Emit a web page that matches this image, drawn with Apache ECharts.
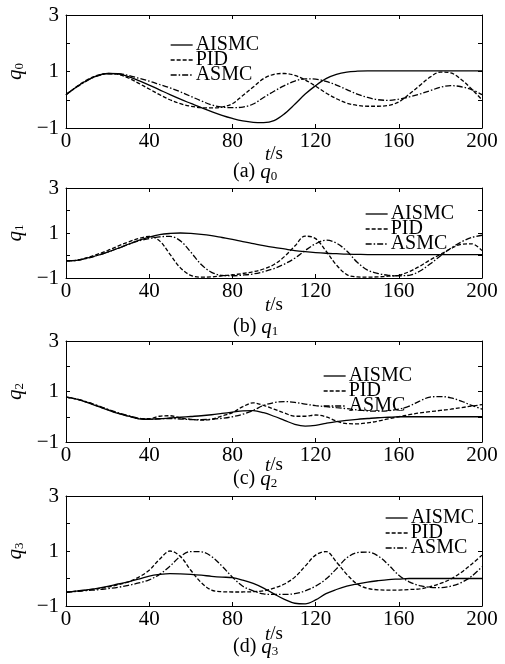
<!DOCTYPE html>
<html><head><meta charset="utf-8">
<script src="https://cdn.jsdelivr.net/npm/echarts@6/dist/echarts.min.js"></script>
<style>html,body{margin:0;padding:0;background:#fff}#c{width:505px;height:664px}</style>
</head><body><div id="c"></div>
<script>
var t = [0,5,10,15,20,25,30,35,40,45,50,55,60,65,70,75,80,85,90,95,100,105,110,115,120,125,130,135,140,145,150,155,160,165,170,175,180,185,190,195,200];
var xTicks = [0,40,80,120,160,200];
var yTicks = [-1,1,3];
var seriesNames = ['AISMC','PID','ASMC'];
var panelLetters = ['a','b','c','d'];

// panel (a) q0
var q0_AISMC = [0.18,0.45,0.68,0.85,0.93,0.92,0.82,0.68,0.52,0.35,0.18,0.02,-0.13,-0.28,-0.42,-0.55,-0.66,-0.75,-0.8,-0.81,-0.74,-0.5,-0.16,0.2,0.5,0.75,0.9,0.98,1.01,1.02,1.02,1.02,1.02,1.02,1.02,1.02,1.02,1.02,1.02,1.02,1.02];
var q0_PID   = [0.18,0.46,0.7,0.86,0.93,0.9,0.77,0.58,0.38,0.18,0.0,-0.14,-0.23,-0.28,-0.29,-0.26,-0.14,0.15,0.45,0.75,0.9,0.93,0.86,0.7,0.48,0.24,0.04,-0.12,-0.2,-0.23,-0.23,-0.2,-0.08,0.2,0.5,0.8,0.98,0.95,0.72,0.38,0.0];
var q0_ASMC  = [0.18,0.44,0.67,0.84,0.92,0.92,0.86,0.76,0.66,0.54,0.42,0.28,0.12,-0.04,-0.18,-0.26,-0.28,-0.26,-0.15,0.08,0.3,0.5,0.66,0.74,0.73,0.65,0.52,0.36,0.2,0.08,0.0,-0.02,0.02,0.1,0.2,0.32,0.44,0.5,0.46,0.36,0.18];

// panel (b) q1
var q1_AISMC = [-0.24,-0.22,-0.12,0.0,0.15,0.32,0.5,0.67,0.82,0.93,0.98,1.0,0.98,0.94,0.88,0.8,0.72,0.62,0.53,0.44,0.36,0.29,0.22,0.17,0.13,0.1,0.08,0.06,0.05,0.04,0.04,0.04,0.04,0.04,0.04,0.04,0.04,0.04,0.04,0.04,0.04];
var q1_PID   = [-0.24,-0.21,-0.1,0.05,0.22,0.42,0.6,0.76,0.85,0.65,0.05,-0.55,-0.88,-0.96,-0.95,-0.9,-0.86,-0.8,-0.72,-0.6,-0.4,-0.05,0.42,0.86,0.75,0.2,-0.42,-0.85,-0.95,-0.96,-0.95,-0.92,-0.88,-0.72,-0.48,-0.2,0.05,0.3,0.5,0.52,0.22];
var q1_ASMC  = [-0.24,-0.22,-0.13,0.0,0.15,0.32,0.5,0.65,0.75,0.83,0.85,0.65,0.15,-0.4,-0.75,-0.88,-0.9,-0.87,-0.82,-0.72,-0.58,-0.38,-0.12,0.22,0.52,0.68,0.55,0.2,-0.3,-0.65,-0.8,-0.88,-0.9,-0.88,-0.7,-0.38,-0.02,0.32,0.6,0.8,0.9];

// panel (c) q2
var q2_AISMC = [0.78,0.7,0.57,0.42,0.27,0.13,0.02,-0.08,-0.1,-0.08,-0.05,-0.02,0.01,0.04,0.08,0.13,0.18,0.23,0.24,0.16,0.02,-0.14,-0.3,-0.37,-0.34,-0.26,-0.19,-0.14,-0.1,-0.07,-0.04,-0.02,0.0,0.0,0.0,0.0,0.0,0.0,0.0,0.0,0.0];
var q2_PID   = [0.78,0.7,0.58,0.43,0.28,0.14,0.03,-0.07,-0.08,0.02,0.04,-0.05,-0.1,-0.13,-0.1,0.03,0.16,0.4,0.55,0.45,0.3,0.15,0.02,0.02,0.07,0.0,-0.17,-0.27,-0.28,-0.24,-0.17,-0.08,0.0,0.08,0.15,0.2,0.25,0.3,0.36,0.42,0.48];
var q2_ASMC  = [0.78,0.71,0.59,0.45,0.3,0.16,0.04,-0.06,-0.1,-0.08,-0.07,-0.09,-0.11,-0.11,-0.1,-0.06,0.0,0.1,0.25,0.45,0.56,0.6,0.57,0.5,0.44,0.4,0.36,0.32,0.27,0.23,0.22,0.24,0.3,0.42,0.62,0.78,0.8,0.75,0.62,0.45,0.3];

// panel (d) q3
var q3_AISMC = [-0.5,-0.46,-0.41,-0.36,-0.29,-0.2,-0.12,-0.02,0.09,0.15,0.18,0.17,0.15,0.12,0.08,0.05,0.03,-0.06,-0.18,-0.35,-0.56,-0.76,-0.9,-0.92,-0.78,-0.55,-0.4,-0.28,-0.2,-0.13,-0.08,-0.04,-0.02,0.0,0.0,0.0,0.0,0.0,0.0,0.0,0.0];
var q3_PID   = [-0.5,-0.46,-0.42,-0.37,-0.31,-0.23,-0.12,0.05,0.3,0.7,1.0,0.8,0.3,-0.15,-0.42,-0.48,-0.49,-0.49,-0.48,-0.45,-0.35,-0.2,0.05,0.45,0.85,0.98,0.6,0.15,-0.2,-0.36,-0.41,-0.42,-0.42,-0.4,-0.38,-0.3,-0.18,-0.02,0.22,0.52,0.85];
var q3_ASMC  = [-0.5,-0.47,-0.44,-0.41,-0.37,-0.32,-0.25,-0.16,-0.05,0.15,0.45,0.8,0.98,0.97,0.8,0.45,0.05,-0.28,-0.45,-0.56,-0.58,-0.58,-0.55,-0.45,-0.28,-0.02,0.35,0.75,0.94,0.96,0.82,0.5,0.12,-0.12,-0.26,-0.32,-0.33,-0.28,-0.15,0.08,0.43];

var panels = [
  [q0_AISMC, q0_PID, q0_ASMC],
  [q1_AISMC, q1_PID, q1_ASMC],
  [q2_AISMC, q2_PID, q2_ASMC],
  [q3_AISMC, q3_PID, q3_ASMC]
];

// layout
var FONT = "'Liberation Serif','Times New Roman',serif";
var grids = [
  {top:15, height:113},
  {top:188, height:90},
  {top:341, height:101},
  {top:496, height:110}
];
var nameGaps = [17, 18, 14, 19];
var captionTop = [161, 316, 468, 636];
var legendPos = [
  {left:170, top:35},
  {left:365, top:204},
  {left:323, top:366},
  {left:385, top:508}
];
var dashTypes = ['solid', [4,2], [6,2,1.5,2]];

var option = {
  animation:false,
  backgroundColor:'#fff',
  textStyle:{fontFamily:FONT, color:'#000'},
  grid:[], xAxis:[], yAxis:[], series:[], legend:[], title:[]
};

var subRich = {
  n:{fontFamily:FONT, fontSize:20, fontWeight:'normal', color:'#000', lineHeight:22, verticalAlign:'middle'},
  i:{fontFamily:FONT, fontSize:21, fontStyle:'italic', fontWeight:'normal', color:'#000', lineHeight:22, verticalAlign:'middle'},
  s:{fontFamily:FONT, fontSize:13, fontWeight:'normal', color:'#000', lineHeight:12, verticalAlign:'bottom'}
};

grids.forEach(function(g, k){
  option.grid.push({left:66, width:416, top:g.top, height:g.height, containLabel:false, outerBoundsMode:'none'});
  option.xAxis.push({
    type:'value', gridIndex:k, min:0, max:200, interval:40, position:'bottom',
    name:'{i|t}{n|/s}', nameLocation:'middle', nameGap:nameGaps[k], nameMoveOverlap:false,
    nameTextStyle:{rich:{i:{fontFamily:FONT,fontSize:19,fontStyle:'italic',color:'#000'}, n:{fontFamily:FONT,fontSize:19,color:'#000'}}},
    axisLine:{onZero:false, lineStyle:{color:'#000', width:1}},
    axisTick:{inside:true, length:4, lineStyle:{color:'#000'}},
    axisLabel:{fontFamily:FONT, fontSize:21, color:'#000', margin:3},
    splitLine:{show:false}
  });
  option.yAxis.push({
    type:'value', gridIndex:k, min:-1, max:3, interval:1, position:'left',
    name:'{i|q}{s|' + k + '}', nameLocation:'middle', nameGap:40, nameRotate:90, nameMoveOverlap:false,
    nameTextStyle:{rich:subRich},
    axisLine:{onZero:false, lineStyle:{color:'#000', width:1}},
    axisTick:{inside:true, length:4, lineStyle:{color:'#000'}},
    axisLabel:{fontFamily:FONT, fontSize:21, color:'#000', margin:7,
      formatter:function(v){ return yTicks.indexOf(v) >= 0 ? String(v).replace('-', '\u2212') : ''; }},
    splitLine:{show:false}
  });
  option.title.push({
    text:'{n|(' + panelLetters[k] + ') }{i|q}{s|' + k + '}',
    left:233, top:captionTop[k], padding:0,
    textStyle:{fontWeight:'normal', rich:subRich}
  });
  option.legend.push({
    data:seriesNames, orient:'vertical', left:legendPos[k].left, top:legendPos[k].top,
    padding:0, itemGap:-5, itemWidth:22, itemHeight:14,
    textStyle:{fontFamily:FONT, fontSize:20, color:'#000', padding:[0,0,0,-2]},
    itemStyle:{color:'rgba(0,0,0,0)', borderWidth:0, opacity:0},
    lineStyle:{width:1.3}
  });
});
grids.forEach(function(g, k){
  option.xAxis.push({
    type:'value', gridIndex:k, min:0, max:200, interval:40, position:'top',
    axisLine:{onZero:false, lineStyle:{color:'#000', width:1}},
    axisTick:{inside:true, length:4, lineStyle:{color:'#000'}},
    axisLabel:{show:false}, splitLine:{show:false}
  });
  option.yAxis.push({
    type:'value', gridIndex:k, min:-1, max:3, interval:1, position:'right',
    axisLine:{onZero:false, lineStyle:{color:'#000', width:1}},
    axisTick:{inside:true, length:4, lineStyle:{color:'#000'}},
    axisLabel:{show:false}, splitLine:{show:false}
  });
});

panels.forEach(function(p, k){
  p.forEach(function(vals, j){
    option.series.push({
      type:'line', name:seriesNames[j], xAxisIndex:k, yAxisIndex:k,
      data:t.map(function(tt, i){ return [tt, vals[i]]; }),
      smooth:0.35, showSymbol:false, symbol:'none',
      lineStyle:{color:'#000', width:1.3, type:dashTypes[j]},
      itemStyle:{color:'#000'}
    });
  });
});

var chart = echarts.init(document.getElementById('c'), null, {renderer:'canvas'});
chart.setOption(option);
</script>
</body></html>
